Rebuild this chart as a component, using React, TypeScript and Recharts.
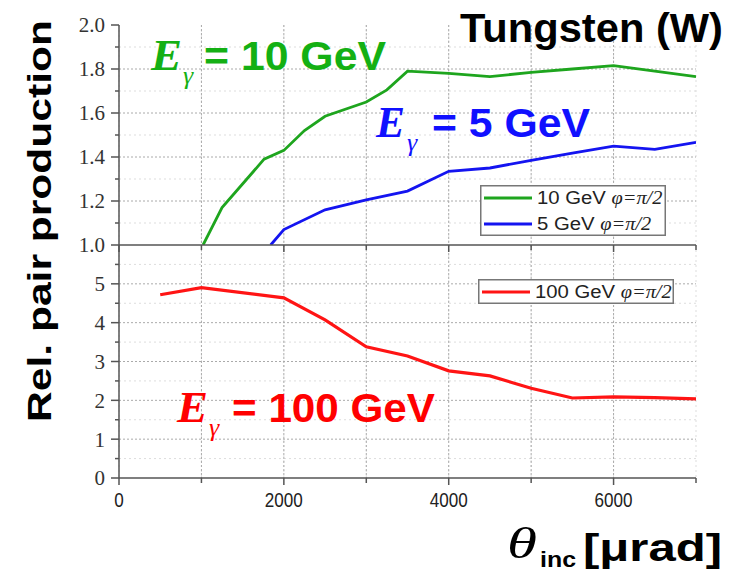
import React from 'react';
import { LineChart, Line, XAxis, YAxis, CartesianGrid, Legend } from 'recharts';

const xTicks = [0, 1000, 2000, 3000, 4000, 5000, 6000, 7000];
const xLabelTicks = [0, 2000, 4000, 6000];
const xGridValues = [1000, 2000, 3000, 4000, 5000, 6000];

const topYTicks = [1.0, 1.1, 1.2, 1.3, 1.4, 1.5, 1.6, 1.7, 1.8, 1.9, 2.0];
const topYLabels = [1.0, 1.2, 1.4, 1.6, 1.8, 2.0];
const topGridMajor = [1.2, 1.4, 1.6, 1.8];
const topGridMinor = [1.1, 1.3, 1.5, 1.7, 1.9];

const bottomYTicks = [0, 0.5, 1, 1.5, 2, 2.5, 3, 3.5, 4, 4.5, 5, 5.5];
const bottomYLabels = [0, 1, 2, 3, 4, 5];
const bottomGridMajor = [1, 2, 3, 4, 5];
const bottomGridMinor = [0.5, 1.5, 2.5, 3.5, 4.5, 5.5];

const green10 = [
  { x: 1020, y: 1.0 }, { x: 1250, y: 1.17 }, { x: 1760, y: 1.39 }, { x: 2000, y: 1.43 },
  { x: 2250, y: 1.52 }, { x: 2500, y: 1.585 }, { x: 3000, y: 1.65 }, { x: 3250, y: 1.705 },
  { x: 3500, y: 1.79 }, { x: 4000, y: 1.78 }, { x: 4500, y: 1.765 }, { x: 5000, y: 1.785 },
  { x: 5500, y: 1.8 }, { x: 6000, y: 1.815 }, { x: 6500, y: 1.79 }, { x: 7000, y: 1.765 },
];
const blue5 = [
  { x: 1840, y: 1.0 }, { x: 2000, y: 1.07 }, { x: 2500, y: 1.16 }, { x: 3000, y: 1.205 },
  { x: 3500, y: 1.245 }, { x: 4000, y: 1.335 }, { x: 4500, y: 1.35 }, { x: 5000, y: 1.385 },
  { x: 5500, y: 1.418 }, { x: 6000, y: 1.449 }, { x: 6500, y: 1.435 }, { x: 7000, y: 1.467 },
];
const red100 = [
  { x: 500, y: 4.72 }, { x: 1000, y: 4.9 }, { x: 2000, y: 4.64 }, { x: 2500, y: 4.07 },
  { x: 3000, y: 3.38 }, { x: 3500, y: 3.14 }, { x: 4000, y: 2.76 }, { x: 4500, y: 2.63 },
  { x: 5000, y: 2.31 }, { x: 5500, y: 2.06 }, { x: 6000, y: 2.09 }, { x: 6500, y: 2.07 },
  { x: 7000, y: 2.04 },
];

const GREEN = '#1ea51e';
const GREEN_TXT = '#14b014';
const BLUE = '#1414f0';
const BLUE_TXT = '#1010ff';
const RED = '#ff1414';
const RED_TXT = '#ff0000';
const AXIS = '#555';

const isIn = (arr: number[], v: number) => arr.some((a) => Math.abs(a - v) < 1e-6);

const makeYTick = (labels: number[], digits: number) => (props: any) => {
  const { x, y, payload } = props;
  const v = payload.value as number;
  const major = isIn(labels, v);
  return (
    <g>
      <line x1={x - (major ? 8 : 4)} x2={x} y1={y} y2={y} stroke={AXIS} strokeWidth={1.5} />
      {major && (
        <text x={x - 14} y={y} dy="0.35em" textAnchor="end" fontFamily="'Liberation Serif', serif" fontSize={21} fill="#333">
          {v.toFixed(digits)}
        </text>
      )}
    </g>
  );
};

const makeXTick = (showLabels: boolean) => (props: any) => {
  const { x, y, payload } = props;
  const v = payload.value as number;
  const major = isIn(xLabelTicks, v);
  const s = String(v);
  return (
    <g>
      <line x1={x} x2={x} y1={y} y2={y + (major ? 7 : 5)} stroke={AXIS} strokeWidth={1.5} />
      {showLabels && major && (
        <text x={x} y={y + 29} textAnchor="middle" fontFamily="'Liberation Sans', Arial, sans-serif" fontSize={20} fill="#222"
          textLength={s.length * 9.5} lengthAdjust="spacingAndGlyphs">
          {s}
        </text>
      )}
    </g>
  );
};

const LegendBox = ({ payload, width, height }: any) => {
  const rows = (payload || []) as any[];
  return (
    <svg width={width} height={height} style={{ display: 'block' }}>
      <rect x={0.75} y={0.75} width={width - 1.5} height={height - 1.5} fill="#fff" stroke="#777" strokeWidth={1.5} />
      {rows.map((p, i) => {
        const cy = 13 + i * 26;
        const name = String(p.value);
        const idx = name.indexOf('φ');
        const head = idx >= 0 ? name.slice(0, idx) : name;
        const tail = idx >= 0 ? name.slice(idx) : '';
        const len = head.length * 11.2 + 47;
        return (
          <g key={i}>
            <line x1={4} x2={52} y1={cy} y2={cy} stroke={p.color} strokeWidth={3} />
            <text x={57} y={cy + 6} fontSize={18} fill="#222" textLength={len} lengthAdjust="spacingAndGlyphs"
              fontFamily="'Liberation Sans', Arial, sans-serif">
              <tspan>{head}</tspan>
              <tspan fontFamily="'Liberation Serif', serif" fontStyle="italic">{tail}</tspan>
            </text>
          </g>
        );
      })}
    </svg>
  );
};

const Overlay = () => (
  <svg width={739} height={574} style={{ position: 'absolute', left: 0, top: 0, pointerEvents: 'none' }}>
    <text x={460} y={42} fontFamily="'Liberation Sans', Arial, sans-serif" fontWeight="bold" fontSize={40}
      fill="#000" textLength={263} lengthAdjust="spacingAndGlyphs">Tungsten (W)</text>

    <text x={151} y={70} fontFamily="'Liberation Serif', serif" fontStyle="italic" fontWeight="bold" fontSize={44} fill={GREEN_TXT}
      textLength={31} lengthAdjust="spacingAndGlyphs">E</text>
    <text x={183} y={84} fontFamily="'Liberation Serif', serif" fontStyle="italic" fontSize={26} fill={GREEN_TXT}>γ</text>
    <text x={204} y={70} fontFamily="'Liberation Sans', Arial, sans-serif" fontWeight="bold" fontSize={40} fill={GREEN_TXT}
      textLength={182} lengthAdjust="spacingAndGlyphs">= 10 GeV</text>

    <text x={376} y={137} fontFamily="'Liberation Serif', serif" fontStyle="italic" fontWeight="bold" fontSize={44} fill={BLUE_TXT}
      textLength={29} lengthAdjust="spacingAndGlyphs">E</text>
    <text x={407} y={151} fontFamily="'Liberation Serif', serif" fontStyle="italic" fontSize={26} fill={BLUE_TXT}>γ</text>
    <text x={432} y={137} fontFamily="'Liberation Sans', Arial, sans-serif" fontWeight="bold" fontSize={40} fill={BLUE_TXT}
      textLength={158} lengthAdjust="spacingAndGlyphs">= 5 GeV</text>

    <text x={177} y={422} fontFamily="'Liberation Serif', serif" fontStyle="italic" fontWeight="bold" fontSize={44} fill={RED_TXT}
      textLength={31} lengthAdjust="spacingAndGlyphs">E</text>
    <text x={209} y={436} fontFamily="'Liberation Serif', serif" fontStyle="italic" fontSize={26} fill={RED_TXT}>γ</text>
    <text x={232} y={422} fontFamily="'Liberation Sans', Arial, sans-serif" fontWeight="bold" fontSize={40} fill={RED_TXT}
      textLength={203} lengthAdjust="spacingAndGlyphs">= 100 GeV</text>

    <text transform="rotate(-90)" x={-221} y={51} textAnchor="middle" fontFamily="'Liberation Sans', Arial, sans-serif"
      fontWeight="bold" fontSize={34} fill="#000" textLength={402} lengthAdjust="spacingAndGlyphs">Rel. pair production</text>

    <text x={507} y={558} fontFamily="'Liberation Serif', serif" fontStyle="italic" fontSize={44} fill="#000"
      textLength={30} lengthAdjust="spacingAndGlyphs">θ</text>
    <text x={540} y={567} fontFamily="'Liberation Sans', Arial, sans-serif" fontWeight="bold" fontSize={22} fill="#000"
      textLength={36} lengthAdjust="spacingAndGlyphs">inc</text>
    <text x={583} y={561} fontFamily="'Liberation Sans', Arial, sans-serif" fontWeight="bold" fontSize={38} fill="#000"
      textLength={139} lengthAdjust="spacingAndGlyphs">[μrad]</text>
  </svg>
);

export default function App() {
  return (
    <div style={{ position: 'absolute', left: 0, top: 0, width: 739, height: 574, background: '#fff', overflow: 'hidden' }}>
      <div style={{ position: 'absolute', left: 0, top: 235 }}>
        <LineChart width={739} height={285} margin={{ top: 10, right: 43, left: 69, bottom: 12 }}>
          <CartesianGrid stroke="#ddd" strokeDasharray="2 3" horizontalValues={bottomGridMinor} verticalValues={[]} />
          <CartesianGrid stroke="#aaa" strokeDasharray="2 2" horizontalValues={bottomGridMajor} verticalValues={xGridValues} />
          <XAxis type="number" dataKey="x" domain={[0, 7000]} ticks={xTicks} interval={0} height={30}
            tickSize={0} tickMargin={0} tickLine={false} axisLine={{ stroke: AXIS, strokeWidth: 1.5 }} tick={makeXTick(true)} allowDataOverflow />
          <YAxis type="number" domain={[0, 6]} ticks={bottomYTicks} interval={0} width={50}
            tickSize={0} tickMargin={0} tickLine={false} axisLine={{ stroke: AXIS, strokeWidth: 1.5 }} tick={makeYTick(bottomYLabels, 0)} allowDataOverflow />
          <Legend layout="vertical" align="center" verticalAlign="middle"
            wrapperStyle={{ left: 478, top: 44, width: 196, height: 25 }}
            content={(p: any) => <LegendBox payload={p.payload} width={196} height={25} />} />
          <Line data={red100} dataKey="y" name="100 GeV φ=π/2" stroke={RED} strokeWidth={3.2} dot={false} isAnimationActive={false} type="linear" />
        </LineChart>
      </div>
      <div style={{ position: 'absolute', left: 0, top: 0 }}>
        <LineChart width={739} height={256} margin={{ top: 25, right: 43, left: 69, bottom: 0 }}>
          <CartesianGrid stroke="#ddd" strokeDasharray="2 3" horizontalValues={topGridMinor} verticalValues={[]} />
          <CartesianGrid stroke="#aaa" strokeDasharray="2 2" horizontalValues={topGridMajor} verticalValues={xGridValues} />
          <XAxis type="number" dataKey="x" domain={[0, 7000]} ticks={xTicks} interval={0} height={11}
            tickSize={0} tickMargin={0} tickLine={false} axisLine={{ stroke: AXIS, strokeWidth: 1.5 }} tick={makeXTick(false)} allowDataOverflow />
          <YAxis type="number" domain={[1, 2]} ticks={topYTicks} interval={0} width={50}
            tickSize={0} tickMargin={0} tickLine={false} axisLine={{ stroke: AXIS, strokeWidth: 1.5 }} tick={makeYTick(topYLabels, 1)} allowDataOverflow />
          <Legend layout="vertical" align="center" verticalAlign="middle"
            wrapperStyle={{ left: 480, top: 185, width: 186, height: 51 }}
            content={(p: any) => <LegendBox payload={p.payload} width={186} height={51} />} />
          <Line data={green10} dataKey="y" name="10 GeV φ=π/2" stroke={GREEN} strokeWidth={2.8} dot={false} isAnimationActive={false} type="linear" />
          <Line data={blue5} dataKey="y" name="5 GeV φ=π/2" stroke={BLUE} strokeWidth={2.8} dot={false} isAnimationActive={false} type="linear" />
        </LineChart>
      </div>
      <Overlay />
    </div>
  );
}
